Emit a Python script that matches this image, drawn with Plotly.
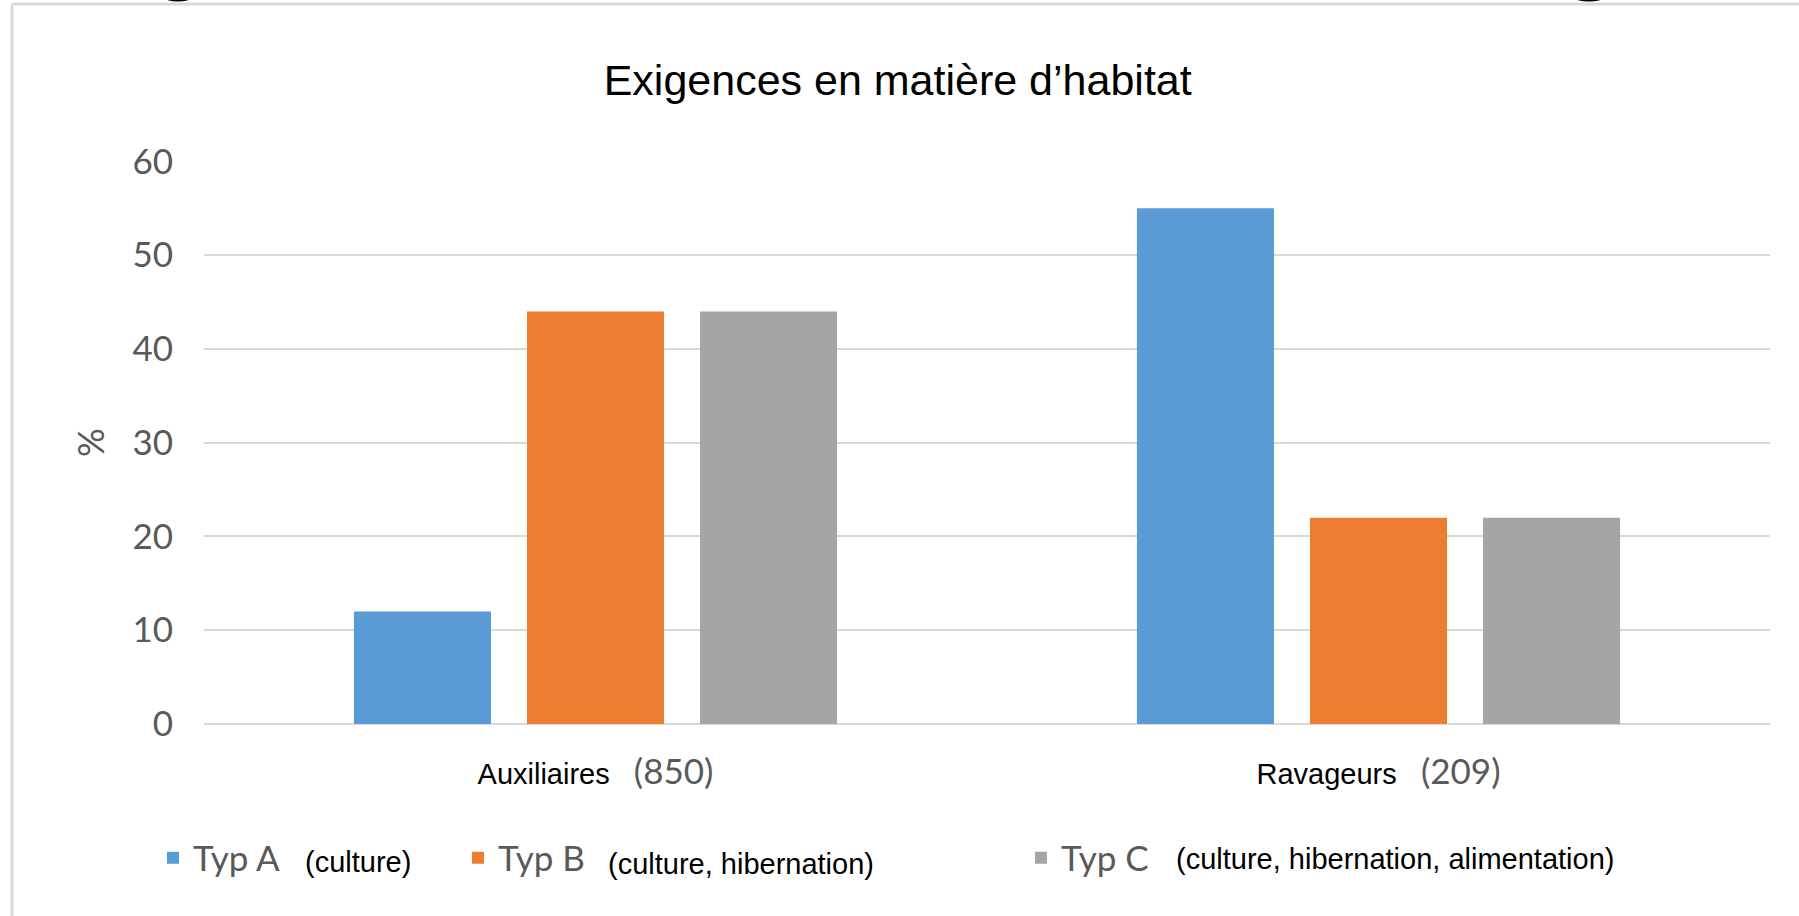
import plotly.graph_objects as go

categories = ["Auxiliaires", "Ravageurs"]
counts = ["(850)", "(209)"]
series_names = ["Typ A", "Typ B", "Typ C"]
series_desc = ["(culture)", "(culture, hibernation)", "(culture, hibernation, alimentation)"]
typ_a = [12, 55]
typ_b = [44, 22]
typ_c = [44, 22]
y_ticks = [0, 10, 20, 30, 40, 50, 60]

colors = ["#5B9BD5", "#ED7D31", "#A5A5A5"]
W, H = 1799, 916
L, R, T, B = 204, 29, 161, 192
pw, ph = W - L - R, H - T - B

def px_x(x):
    return (x - L) / pw

def px_y(y):
    return (H - B - y) / ph

num_font = "Lato, 'Open Sans', sans-serif"
arial = "'Liberation Sans', Arial, sans-serif"

fig = go.Figure()
legend_ids = ["legend", "legend2", "legend3"]
for name, vals, col, lg in zip(series_names, [typ_a, typ_b, typ_c], colors, legend_ids):
    fig.add_trace(go.Bar(x=categories, y=vals, name=name, marker_color=col,
                         marker_line_width=0, legend=lg))

ticktext = [f"{c}&nbsp;&nbsp;&nbsp;<span style='font-family:Lato;font-size:35px;fill:#595959'>{n}</span>"
            for c, n in zip(categories, counts)]

legend_common = dict(orientation="h", yanchor="middle", xanchor="left",
                     font=dict(family=num_font, size=35, color="#595959"),
                     bgcolor="rgba(0,0,0,0)", borderwidth=0)
legend_px = [153, 458, 1021]
desc_px = [303, 606, 1174]
desc_py = [862, 864, 859]
leg_y = px_y(858)

layout_legends = {}
for lg, lx in zip(legend_ids, legend_px):
    layout_legends[lg] = dict(x=px_x(lx), y=leg_y, **legend_common)

annotations = []
for d, dx, dy in zip(series_desc, desc_px, desc_py):
    annotations.append(dict(text=d, x=px_x(dx), y=px_y(dy), xref="paper", yref="paper",
                            xanchor="left", yanchor="middle", showarrow=False,
                            font=dict(family=arial, size=29, color="#000000")))

shapes = [
    dict(type="line", xref="paper", yref="paper", x0=px_x(12), x1=px_x(12), y0=px_y(4), y1=px_y(H),
         line=dict(color="#D9D9D9", width=3)),
    dict(type="line", xref="paper", yref="paper", x0=px_x(12), x1=px_x(W), y0=px_y(4), y1=px_y(4),
         line=dict(color="#D9D9D9", width=3)),
    dict(type="circle", xref="paper", yref="paper", x0=px_x(165), x1=px_x(191), y0=px_y(-6), y1=px_y(1.5),
         fillcolor="#000000", line=dict(width=0)),
    dict(type="circle", xref="paper", yref="paper", x0=px_x(1575), x1=px_x(1603), y0=px_y(-6), y1=px_y(1.5),
         fillcolor="#000000", line=dict(width=0)),
]

fig.update_layout(
    width=W, height=H,
    margin=dict(l=L, r=R, t=T, b=B, pad=0),
    paper_bgcolor="white", plot_bgcolor="white",
    barmode="group", bargap=0.337, bargroupgap=0.208,
    title=dict(text="Exigences en matière d’habitat", x=0.499, xanchor="center",
               y=1 - 80 / H, yanchor="middle",
               font=dict(family=arial, size=43, color="#000000")),
    showlegend=True,
    annotations=annotations,
    shapes=shapes,
    **layout_legends,
)

fig.update_xaxes(type="category", tickvals=categories, ticktext=ticktext,
                 tickfont=dict(family=arial, size=29, color="#000000"),
                 showgrid=False, showline=False, zeroline=False, ticks="",
                 ticklabelstandoff=30)
fig.update_yaxes(range=[0, 60.05], tickvals=y_ticks, showgrid=True, gridcolor="#D9D9D9", gridwidth=2,
                 zeroline=True, zerolinecolor="#D9D9D9", zerolinewidth=2, showline=False, ticks="",
                 tickfont=dict(family=num_font, size=35, color="#595959"),
                 ticklabelstandoff=30,
                 title=dict(text="%", standoff=16, font=dict(family=num_font, size=36, color="#595959")))

fig.write_html("out.html", config={"displayModeBar": False},
               post_script="document.body.style.margin='0';document.body.style.overflow='hidden';")
